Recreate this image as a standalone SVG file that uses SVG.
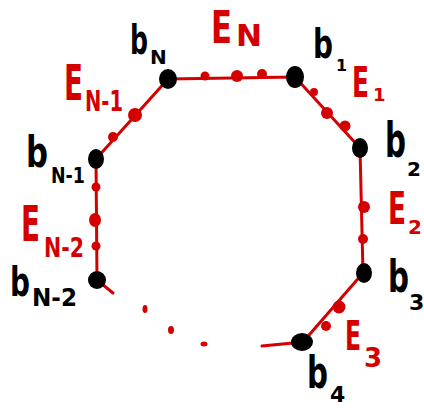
<svg xmlns="http://www.w3.org/2000/svg" width="424" height="408" viewBox="0 0 424 408">
<style>
.e{stroke:#d40000;stroke-width:3;fill:none;stroke-linecap:round}
.rd{fill:#d40000}
.bk{fill:#000}
.lb{font-family:"DejaVu Sans","Liberation Sans",sans-serif;fill:#000;font-weight:bold}
.lr{font-family:"DejaVu Sans","Liberation Sans",sans-serif;fill:#d40000;font-weight:bold}
</style>
<rect width="424" height="408" fill="#fff"/>
<g id="connectors">
<path class="e" d="M96,159 L168,79 L295,77 L360,148 L363,273 L303,342 L262,346"/>
<path class="e" d="M96,159 L97,280 L113,293"/>
<g class="rd">
<circle cx="205" cy="76" r="4.5"/><circle cx="237" cy="76" r="6"/><circle cx="262" cy="74" r="5"/>
<circle cx="135" cy="115" r="7"/><circle cx="113" cy="137" r="5"/>
<circle cx="96" cy="187" r="4.5"/><ellipse cx="95" cy="220" rx="6" ry="7"/><circle cx="96" cy="246" r="4.5"/>
<circle cx="314" cy="92" r="4"/><circle cx="327" cy="113" r="6"/><circle cx="345" cy="126" r="5.5"/>
<circle cx="364" cy="207" r="6"/><circle cx="363" cy="239" r="5"/>
<circle cx="339" cy="307" r="6.5"/><circle cx="326" cy="326" r="5"/>
<ellipse cx="145" cy="309" rx="2.5" ry="4"/><ellipse cx="171" cy="330" rx="3" ry="4"/><ellipse cx="204" cy="344" rx="3.5" ry="2.5"/>
</g>
</g>
<g id="bN"><ellipse class="bk" cx="168" cy="79" rx="9" ry="10"/>
<text class="lb"><tspan x="130" y="54" font-size="40" textLength="18" lengthAdjust="spacingAndGlyphs">b</tspan><tspan x="150" y="64" font-size="20">N</tspan></text></g>
<g id="b1"><ellipse class="bk" cx="295" cy="77" rx="9" ry="11"/>
<text class="lb"><tspan x="313" y="58" font-size="40" textLength="20" lengthAdjust="spacingAndGlyphs">b</tspan><tspan x="336" y="71" font-size="16">1</tspan></text></g>
<g id="b2"><ellipse class="bk" cx="360" cy="148" rx="8" ry="10"/>
<text class="lb"><tspan x="385" y="157" font-size="48" textLength="21" lengthAdjust="spacingAndGlyphs">b</tspan><tspan x="407" y="176" font-size="20">2</tspan></text></g>
<g id="b3"><ellipse class="bk" cx="364" cy="273" rx="8" ry="10"/>
<text class="lb"><tspan x="388" y="292" font-size="44" textLength="21" lengthAdjust="spacingAndGlyphs">b</tspan><tspan x="409" y="310" font-size="22">3</tspan></text></g>
<g id="b4"><ellipse class="bk" cx="302" cy="342" rx="11" ry="9"/>
<text class="lb"><tspan x="307" y="388" font-size="44" textLength="21" lengthAdjust="spacingAndGlyphs">b</tspan><tspan x="330" y="402" font-size="22">4</tspan></text></g>
<g id="bN1"><ellipse class="bk" cx="96" cy="159" rx="8" ry="10"/>
<text class="lb"><tspan x="26" y="167" font-size="42" textLength="22" lengthAdjust="spacingAndGlyphs">b</tspan><tspan x="51" y="183" font-size="22" textLength="34" lengthAdjust="spacingAndGlyphs">N-1</tspan></text></g>
<g id="bN2"><ellipse class="bk" cx="97" cy="280" rx="9" ry="9"/>
<text class="lb"><tspan x="10" y="296" font-size="40" textLength="20" lengthAdjust="spacingAndGlyphs">b</tspan><tspan x="32" y="306" font-size="24" textLength="45" lengthAdjust="spacingAndGlyphs">N-2</tspan></text></g>
<g id="labels-E">
<text class="lr"><tspan x="211" y="43" font-size="44" textLength="21" lengthAdjust="spacingAndGlyphs">E</tspan><tspan x="236" y="46" font-size="30" textLength="26" lengthAdjust="spacingAndGlyphs">N</tspan></text>
<text class="lr"><tspan x="352" y="97" font-size="42" textLength="17" lengthAdjust="spacingAndGlyphs">E</tspan><tspan x="373" y="101" font-size="18">1</tspan></text>
<text class="lr"><tspan x="388" y="224" font-size="44" textLength="18" lengthAdjust="spacingAndGlyphs">E</tspan><tspan x="408" y="234" font-size="20">2</tspan></text>
<text class="lr"><tspan x="345" y="350" font-size="40" textLength="16" lengthAdjust="spacingAndGlyphs">E</tspan><tspan x="364" y="367" font-size="26">3</tspan></text>
<text class="lr"><tspan x="64" y="100" font-size="50" textLength="19" lengthAdjust="spacingAndGlyphs">E</tspan><tspan x="85" y="111" font-size="28" textLength="38" lengthAdjust="spacingAndGlyphs">N-1</tspan></text>
<text class="lr"><tspan x="21" y="241" font-size="50" textLength="19" lengthAdjust="spacingAndGlyphs">E</tspan><tspan x="44" y="257" font-size="26" textLength="40" lengthAdjust="spacingAndGlyphs">N-2</tspan></text>
</g>
</svg>
